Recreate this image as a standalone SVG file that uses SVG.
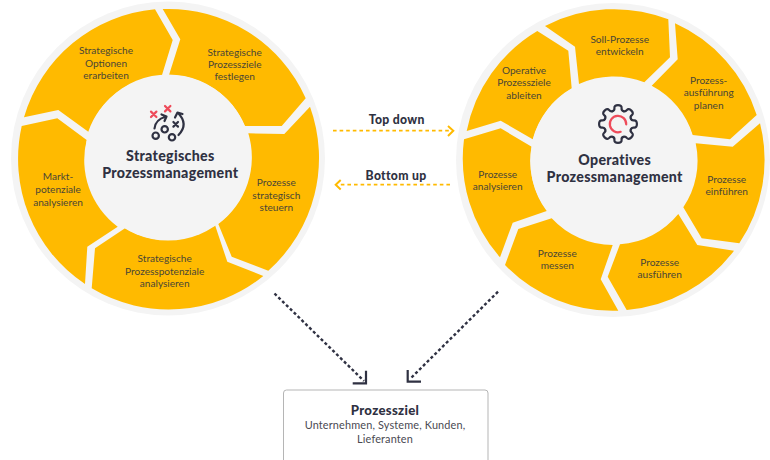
<svg xmlns="http://www.w3.org/2000/svg" width="770" height="460" viewBox="0 0 770 460">
<style>
text{font-family:"Lato","Noto Sans","Liberation Sans",sans-serif;text-anchor:middle}
.seg{fill:#FFBA00}
.disc{fill:#F4F4F4}
.l{font-size:10.1px;fill:#4A4636}
.t{font-size:14.2px;font-weight:900;fill:#2F3142;letter-spacing:.3px}
.a{font-size:12.2px;font-weight:900;fill:#2F3142;letter-spacing:.3px}
.b{font-size:10.9px;fill:#4a4a52;letter-spacing:.15px}
.ic{fill:none;stroke:#2F3142;stroke-width:2.2;stroke-linecap:round;stroke-linejoin:round}
.rd{fill:none;stroke:#EE4B5A;stroke-width:2.2;stroke-linecap:round}
.yd{fill:none;stroke:#FFBA00;stroke-width:1.7;stroke-dasharray:3.6 3}
.yh{fill:none;stroke:#FFBA00;stroke-width:2}
.dd{fill:none;stroke:#2F3142;stroke-width:2.4;stroke-dasharray:3 2.4}
.dh{fill:none;stroke:#2F3142;stroke-width:2.2}
</style>
<defs>
<path id="tooth" d="M-5.4-12.9Q-3.2-13.5-3.6-16Q-3.8-18.9 0-18.9Q3.8-18.9 3.6-16Q3.2-13.5 5.4-12.9"/>
</defs>
<g id="strategisch">
<circle class="disc" cx="168" cy="158.5" r="157"/>
<g id="s1"><path class="seg" d="M24,117.3L58.3,110L88.3,131.7A83 83 0 0 1 161.7,76L172.7,40L155,9.3A150.5 150.5 0 0 0 24,117.3Z"/><text class="l" x="106" y="54">Strategische</text><text class="l" x="106" y="66.5">Optionen</text><text class="l" x="106" y="79">erarbeiten</text></g>
<g id="s2"><path class="seg" d="M162.7,9L180.3,39.3L169,75A83 83 0 0 1 245,126L281.7,126L305.7,98.3A150.5 150.5 0 0 0 162.7,9Z"/><text class="l" x="234.7" y="55.5">Strategische</text><text class="l" x="234.7" y="68">Prozessziele</text><text class="l" x="234.7" y="80">festlegen</text></g>
<g id="s3"><path class="seg" d="M310,106.7L284.3,134L248.3,133.3A83 83 0 0 1 218.3,224L231.7,256.7L268.3,270.7A150.5 150.5 0 0 0 310,106.7Z"/><text class="l" x="276.3" y="186">Prozesse</text><text class="l" x="276.3" y="198.5">strategisch</text><text class="l" x="276.3" y="211">steuern</text></g>
<g id="s4"><path class="seg" d="M263.3,276L227.3,261.7L215,225A83 83 0 0 1 125,228.3L95,248.3L91.7,288.3A150.5 150.5 0 0 0 263.3,276Z"/><text class="l" x="164.7" y="262">Strategische</text><text class="l" x="164.7" y="274.5">Prozesspotenziale</text><text class="l" x="164.7" y="287">analysieren</text></g>
<g id="s5"><path class="seg" d="M85,284L87.3,246.7L117.7,226.7A83 83 0 0 1 86.7,140L57.3,118.3L21.7,126A150.5 150.5 0 0 0 85,284Z"/><text class="l" x="58" y="180">Markt-</text><text class="l" x="58" y="193">potenziale</text><text class="l" x="58" y="205.5">analysieren</text></g>
<g id="s-centre">
<circle class="disc" cx="168" cy="157.5" r="83"/>
<path class="rd" d="M151,111.6L156.4,117M156.4,111.6L151,117M165,106L170.4,111.4M170.4,106L165,111.4"/>
<circle class="ic" cx="155.7" cy="135.7" r="3.2"/><circle class="ic" cx="164.7" cy="129.3" r="3.2"/><circle class="ic" cx="172" cy="137.3" r="3.2"/>
<path class="ic" d="M173.4,122L178,126.6M178,122L173.4,126.6"/>
<path class="ic" d="M154.5,128.5Q155.5,119.5 165.5,116.8M161.5,114.5L166.5,116.5L164.5,121"/>
<path class="ic" d="M178.5,135Q189,124 178,113M175,117.5L177.5,112.5L182.5,114"/>
<text class="t" x="170.3" y="161">Strategisches</text><text class="t" x="170.3" y="178">Prozessmanagement</text>
</g>
</g>
<g id="operativ">
<circle class="disc" cx="613" cy="160" r="157"/>
<g id="o1"><path class="seg" d="M466.7,131L500.7,120.7L532.7,139.3A83 83 0 0 1 571.7,88.3L568.3,50.7L537.3,31A150 150 0 0 0 466.7,131Z"/><text class="l" x="524" y="74">Operative</text><text class="l" x="524" y="86">Prozessziele</text><text class="l" x="524" y="98.5">ableiten</text></g>
<g id="o2"><path class="seg" d="M545,26L575,46.7L579,84A83 83 0 0 1 644.3,82.3L670,57.3L668.3,19.3A150 150 0 0 0 545,26Z"/><text class="l" x="619.7" y="43">Soll-Prozesse</text><text class="l" x="619.7" y="55">entwickeln</text></g>
<g id="o3"><path class="seg" d="M675,23.3L677.7,59.3L651.7,85.7A83 83 0 0 1 692.7,135L730,139.3L756.7,115A150 150 0 0 0 675,23.3Z"/><text class="l" x="708.7" y="83.5">Prozess-</text><text class="l" x="708.7" y="96">ausführung</text><text class="l" x="708.7" y="108.5">planen</text></g>
<g id="o4"><path class="seg" d="M760,123.3L732.7,146.7L695.7,143.3A83 83 0 0 1 683.3,207.3L701.7,238.3L739.3,243.3A150 150 0 0 0 760,123.3Z"/><text class="l" x="726.7" y="182.5">Prozesse</text><text class="l" x="726.7" y="195">einführen</text></g>
<g id="o5"><path class="seg" d="M734,250.7L697.3,245L678.3,214A83 83 0 0 1 620,244.3L607.7,276.7L626.7,310A150 150 0 0 0 734,250.7Z"/><text class="l" x="659.7" y="265.5">Prozesse</text><text class="l" x="659.7" y="278">ausführen</text></g>
<g id="o6"><path class="seg" d="M618.3,310.7L600.7,279.3L612.7,245A83 83 0 0 1 551.7,218.3L518.3,229L505,265A150 150 0 0 0 618.3,310.7Z"/><text class="l" x="557.3" y="257">Prozesse</text><text class="l" x="557.3" y="269">messen</text></g>
<g id="o7"><path class="seg" d="M500,257.3L512.7,222.7L546.7,211A83 83 0 0 1 531.7,146.7L500.7,128.3L464,139.3A150 150 0 0 0 500,257.3Z"/><text class="l" x="497.7" y="177.5">Prozesse</text><text class="l" x="497.7" y="190">analysieren</text></g>
<g id="o-centre">
<circle class="disc" cx="613.3" cy="160.5" r="83"/>
<g class="ic" transform="translate(618,124)">
<use href="#tooth"/><use href="#tooth" transform="rotate(45)"/><use href="#tooth" transform="rotate(90)"/><use href="#tooth" transform="rotate(135)"/><use href="#tooth" transform="rotate(180)"/><use href="#tooth" transform="rotate(225)"/><use href="#tooth" transform="rotate(270)"/><use href="#tooth" transform="rotate(315)"/>
</g>
<path class="rd" d="M620.7,131.8A8.2 8.2 0 1 1 626.2,124.4"/>
<text class="t" x="614.7" y="164.5">Operatives</text><text class="t" x="614.7" y="182">Prozessmanagement</text>
</g>
</g>
<g id="connectors">
<path class="yd" d="M333,130.7H451"/><path class="yh" d="M448,126L453.3,130.8L448,136"/>
<path class="yd" d="M450,184.7H338"/><path class="yh" d="M340.7,180L335.7,184.7L340.7,189.5"/>
<path class="dd" d="M274.5,293.5L364,381"/><path class="dh" d="M366,370.7V383.3H352.7"/>
<path class="dd" d="M498,291.7L410,379"/><path class="dh" d="M407.7,370V381.7H421"/>
</g>
<g id="labels"><text class="a" x="396.7" y="123.5">Top down</text><text class="a" x="396" y="179.5">Bottom up</text></g>
<g id="ziel">
<rect x="283.5" y="390" width="204.5" height="80" rx="3" fill="#fff" stroke="#B5B5B5"/>
<text class="a" x="385" y="415" style="font-size:13.2px">Prozessziel</text>
<text class="b" x="385" y="429">Unternehmen, Systeme, Kunden,</text>
<text class="b" x="385" y="443">Lieferanten</text>
</g>
</svg>
